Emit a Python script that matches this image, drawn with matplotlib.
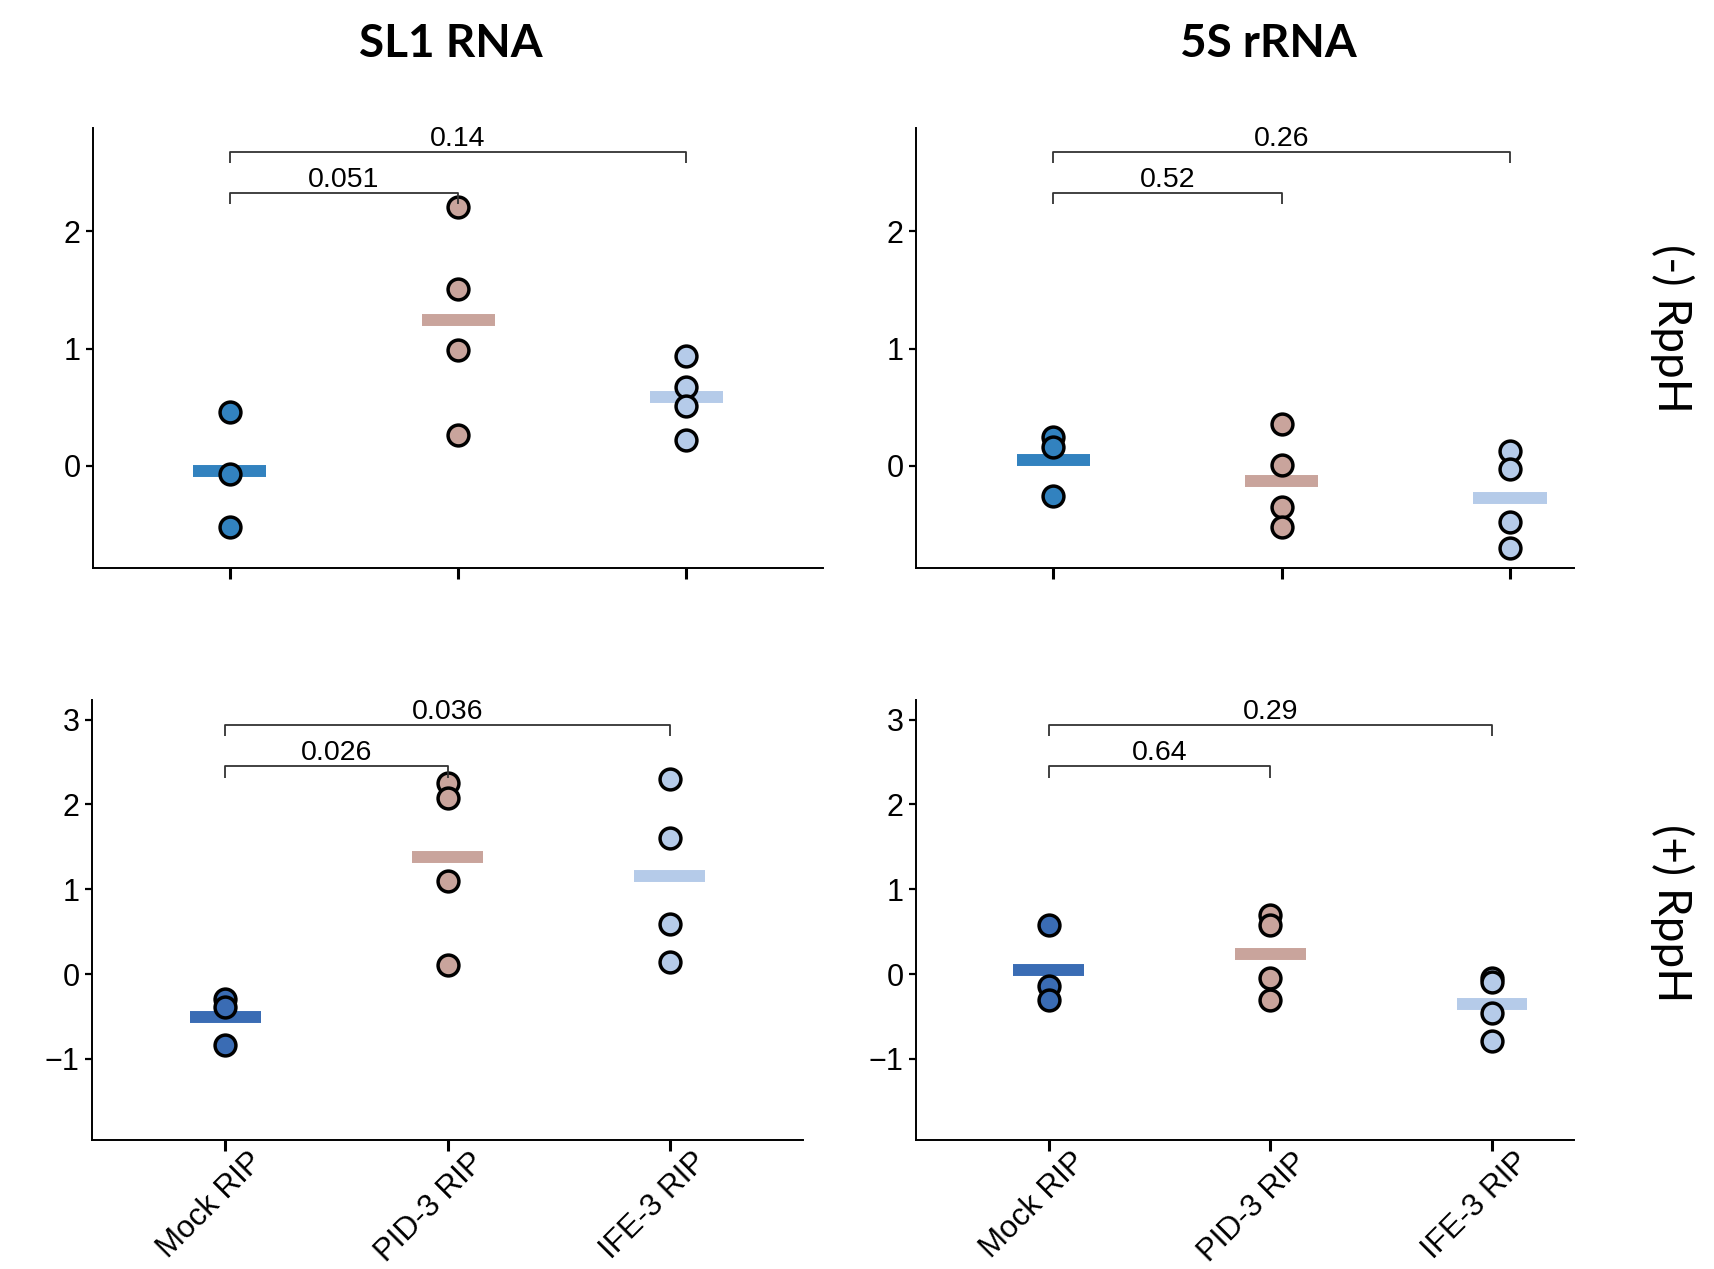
import numpy as np
import matplotlib
matplotlib.use("Agg")
import matplotlib.pyplot as plt
from matplotlib.transforms import ScaledTranslation, blended_transform_factory

plt.rcParams['font.family'] = ['Liberation Sans', 'DejaVu Sans']

# ---- data ----
categories = ["Mock RIP", "PID-3 RIP", "IFE-3 RIP"]
col_titles = ["SL1 RNA", "5S rRNA"]
row_labels = ["(-) RppH", "(+) RppH"]

sl1_minus_mock = [0.46, -0.07, -0.52]
sl1_minus_pid = [2.21, 1.51, 0.99, 0.26]
sl1_minus_ife = [0.94, 0.67, 0.51, 0.22]

s5_minus_mock = [0.25, 0.16, -0.26]
s5_minus_pid = [0.36, 0.01, -0.35, -0.52]
s5_minus_ife = [0.13, -0.03, -0.48, -0.70]

sl1_plus_mock = [-0.29, -0.39, -0.83]
sl1_plus_pid = [2.25, 2.07, 1.10, 0.11]
sl1_plus_ife = [2.30, 1.60, 0.59, 0.14]

s5_plus_mock = [0.58, -0.14, -0.30]
s5_plus_pid = [0.70, 0.58, -0.05, -0.30]
s5_plus_ife = [-0.05, -0.09, -0.46, -0.79]

pvals_sl1_minus = ["0.051", "0.14"]
pvals_s5_minus = ["0.52", "0.26"]
pvals_sl1_plus = ["0.026", "0.036"]
pvals_s5_plus = ["0.64", "0.29"]

# ---- styling ----
mock_top = "#3282bf"
mock_bot = "#3a6cb4"
pid_col = "#c9a49c"
ife_col = "#b5cbe9"

W, H = 1714, 1269
fig = plt.figure(figsize=(W / 100, H / 100), dpi=100)

panels = [
    ([sl1_minus_mock, sl1_minus_pid, sl1_minus_ife], pvals_sl1_minus, mock_top,
     (93, 823, 128, 568), 2.6, (-0.87, 2.88), [0, 1, 2], (2.326, 2.675), 0.095, False),
    ([s5_minus_mock, s5_minus_pid, s5_minus_ife], pvals_s5_minus, mock_top,
     (916, 1574, 128, 568), 2.28, (-0.87, 2.88), [0, 1, 2], (2.326, 2.675), 0.095, False),
    ([sl1_plus_mock, sl1_plus_pid, sl1_plus_ife], pvals_sl1_plus, mock_bot,
     (92, 803, 700, 1140), 2.6, (-1.955, 3.23), [-1, 0, 1, 2, 3], (2.45, 2.94), 0.14, True),
    ([s5_plus_mock, s5_plus_pid, s5_plus_ife], pvals_s5_plus, mock_bot,
     (916, 1574, 700, 1140), 2.37, (-1.955, 3.23), [-1, 0, 1, 2, 3], (2.45, 2.94), 0.14, True),
]

label_shift = ScaledTranslation(0.22, -0.07, fig.dpi_scale_trans)

for groups, pv, mcol, rect, xr, ylim, yticks, by, drop, show_x in panels:
    l, r, t, b = rect
    ax = fig.add_axes([l / W, 1 - b / H, (r - l) / W, (b - t) / H])
    cols = [mcol, pid_col, ife_col]
    for i, (vals, c) in enumerate(zip(groups, cols)):
        m = np.mean(vals)
        ax.hlines(m, i - 0.16, i + 0.16, colors=c, lw=8.6, zorder=2, capstyle='butt')
        ax.plot([i] * len(vals), vals, 'o', ms=15, mfc=c, mec='black', mew=2.5,
                zorder=3, linestyle='none')
    # brackets
    for (x2, yb, txt) in [(1, by[0], pv[0]), (2, by[1], pv[1])]:
        ax.plot([0, 0, x2, x2], [yb - drop, yb, yb, yb - drop], color='#333333',
                lw=1.3, zorder=4, solid_capstyle='butt')
        ax.text(x2 / 2, yb, txt, ha='center', va='bottom',
                fontsize=20.5, color='black')
    ax.set_xlim(-0.6, xr)
    ax.set_ylim(*ylim)
    ax.set_yticks(yticks)
    ax.set_yticklabels([("\u2212%d" % -v) if v < 0 else "%d" % v for v in yticks])
    ax.set_xticks(range(len(categories)))
    ax.set_xticklabels([])
    if show_x:
        trans = blended_transform_factory(ax.transData, ax.transAxes) + label_shift
        for i, cat in enumerate(categories):
            ax.text(i, 0, cat, transform=trans, rotation=45, ha='right', va='top',
                    rotation_mode='anchor', fontsize=22.5, clip_on=False)
    for s in ['top', 'right']:
        ax.spines[s].set_visible(False)
    for s in ['left', 'bottom']:
        ax.spines[s].set_linewidth(1.4)
    ax.tick_params(axis='y', labelsize=22, length=5, width=1.6, pad=4)
    ax.tick_params(axis='x', length=8, width=2.2, pad=6)

# column titles
fig.text(451 / W, 1 - 44 / H, col_titles[0], ha='center', va='center', fontsize=33,
         fontweight='bold', family=['Lato', 'DejaVu Sans'])
fig.text(1268 / W, 1 - 44 / H, col_titles[1], ha='center', va='center', fontsize=33,
         fontweight='bold', family=['Lato', 'DejaVu Sans'])
# row labels
fig.text(1672 / W, 1 - 328 / H, row_labels[0], ha='center', va='center', fontsize=33,
         rotation=-90, family=['Lato', 'DejaVu Sans'])
fig.text(1672 / W, 1 - 913 / H, row_labels[1], ha='center', va='center', fontsize=33,
         rotation=-90, family=['Lato', 'DejaVu Sans'])

fig.savefig("out.png", dpi=100, facecolor='white')
